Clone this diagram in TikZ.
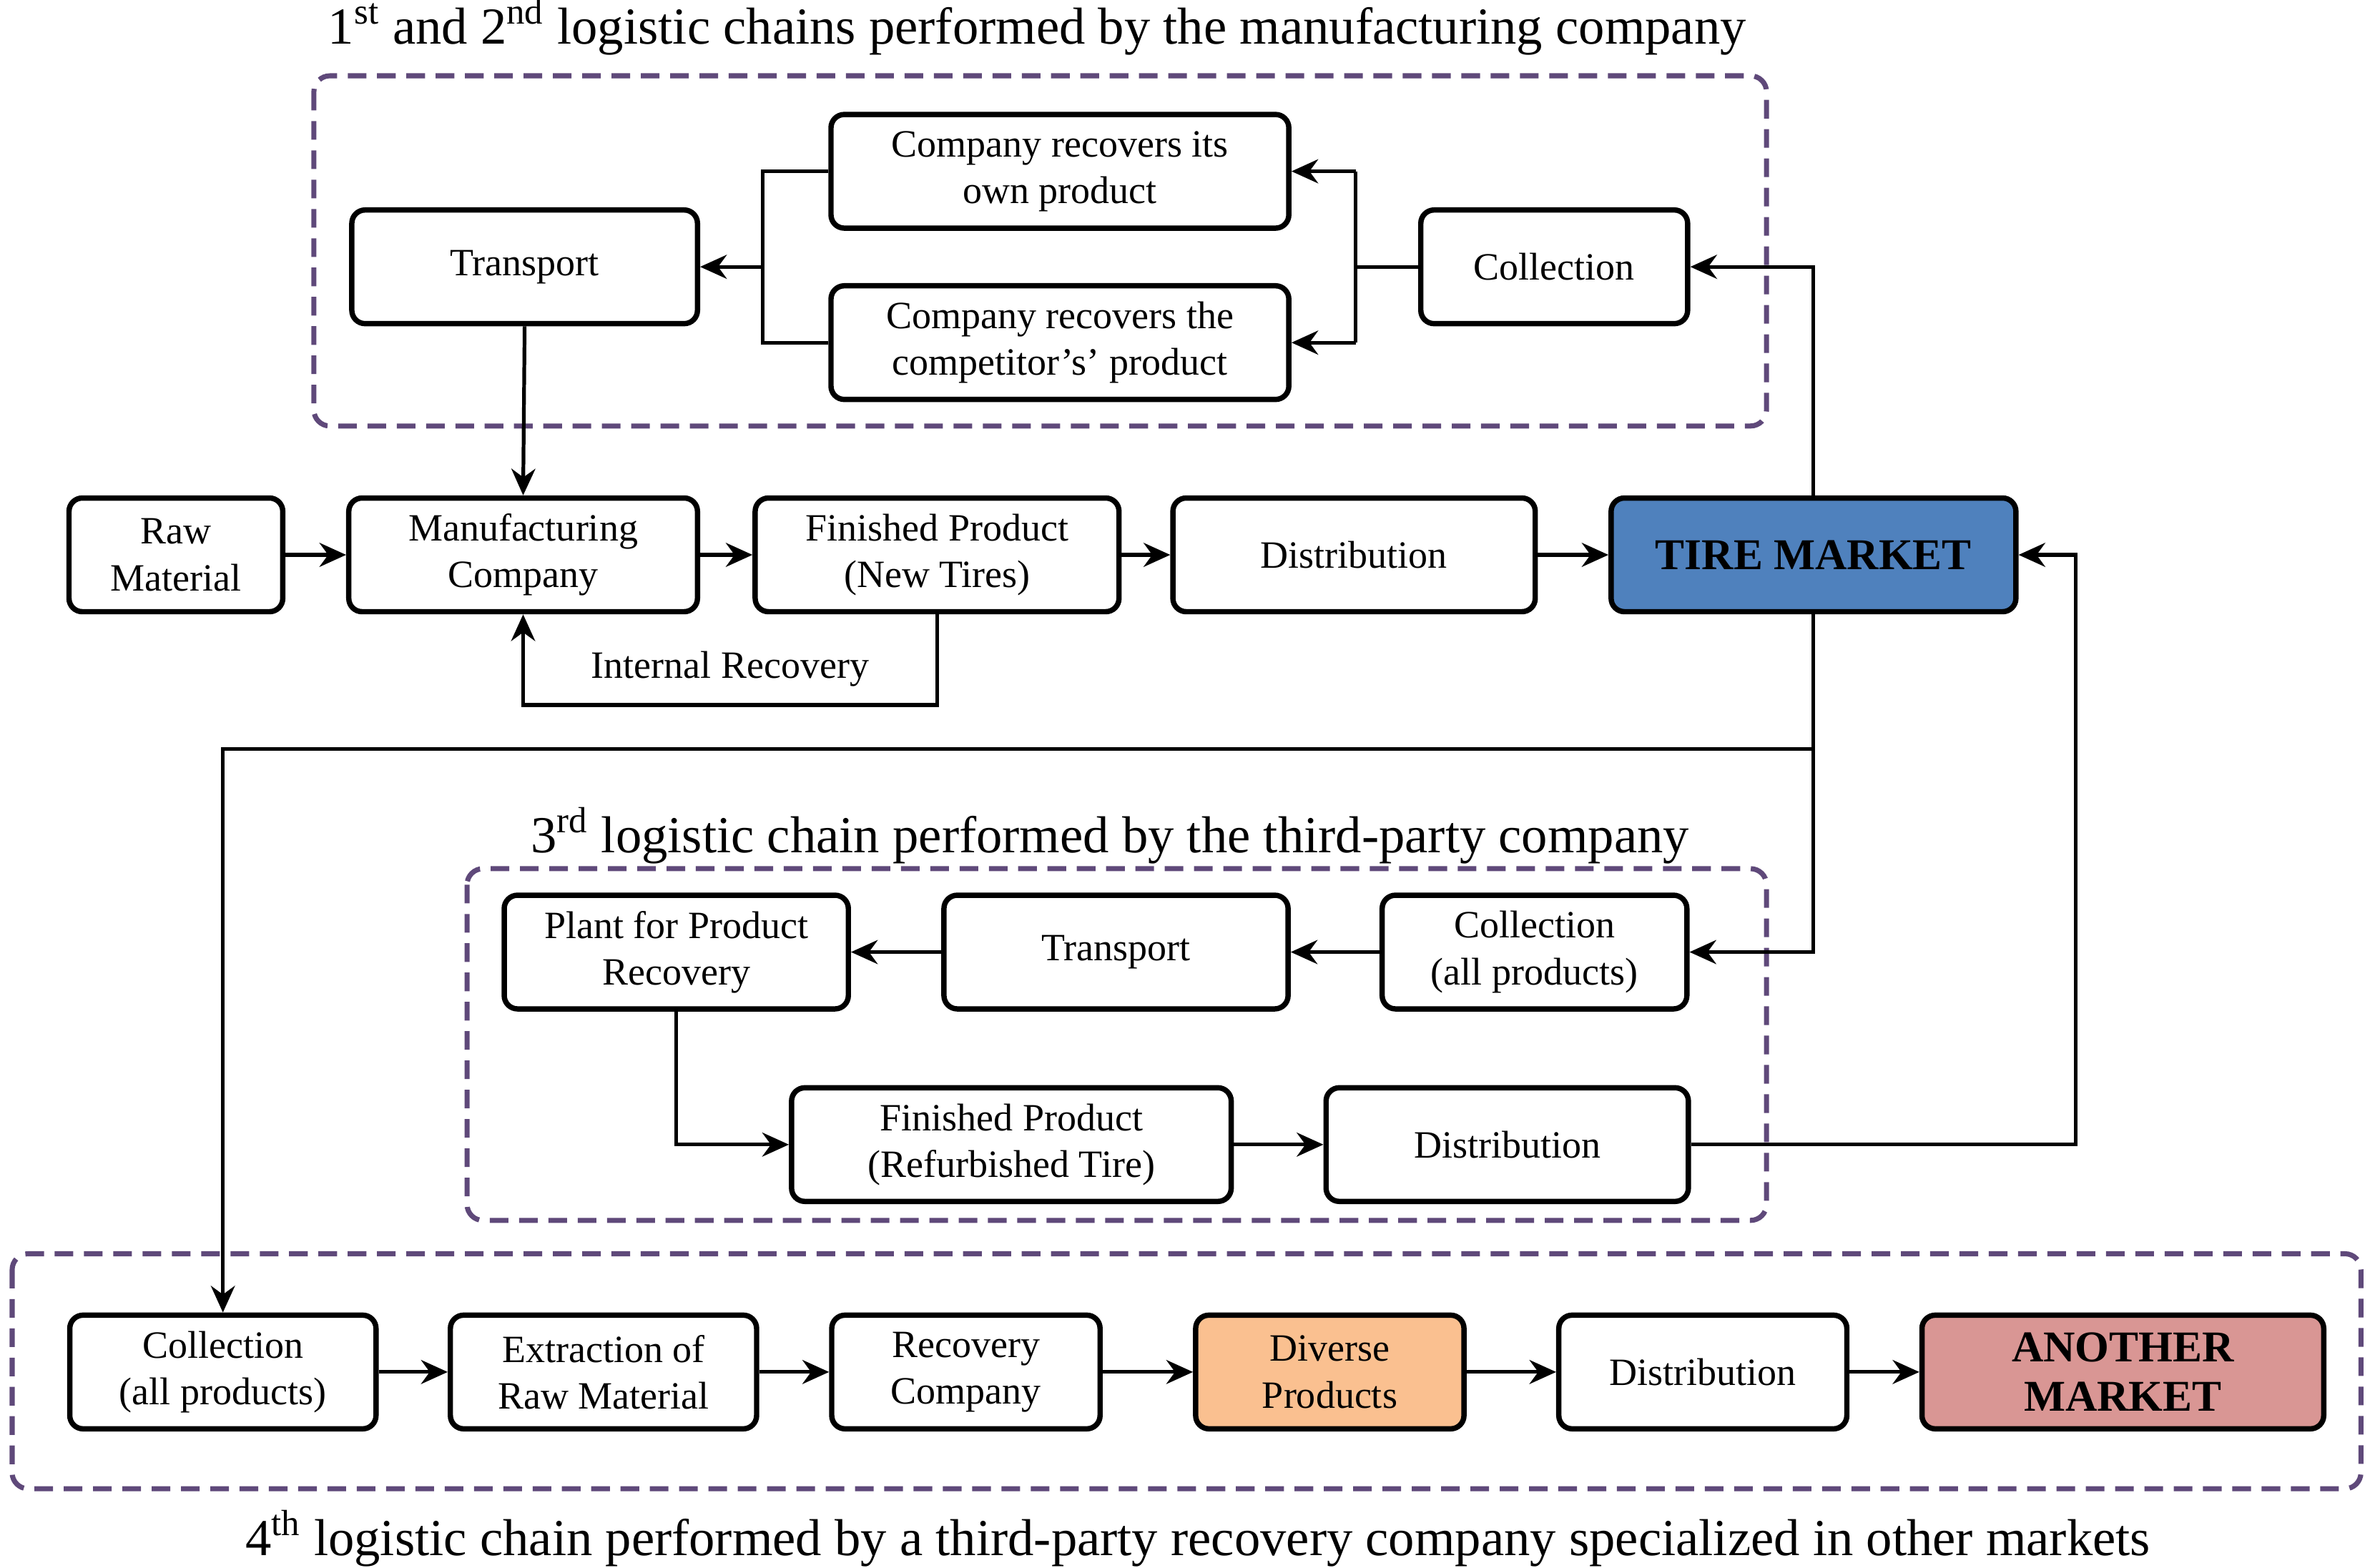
\documentclass[tikz,border=0pt]{standalone}
\usepackage{fontspec}
\setmainfont{Liberation Serif}
\usetikzlibrary{arrows.meta}
\definecolor{dpurple}{HTML}{5F497A}
\definecolor{tblue}{HTML}{4F81BD}
\definecolor{dorange}{HTML}{FAC090}
\definecolor{dred}{HTML}{D99694}
\begin{document}
\begin{tikzpicture}[x=0.02cm,y=-0.02cm,
 box/.style={draw,line width=2pt,rounded corners=5pt,minimum height=1.5cm,align=center,font=\fontsize{14.5}{17.5}\selectfont,inner sep=1pt},
 grp/.style={draw=dpurple,line width=1.9pt,dash pattern=on 7pt off 4pt,rounded corners=6pt},
 ttl/.style={font=\fontsize{19.5}{22}\selectfont},
 ar/.style={line width=1.4pt,-{Stealth[length=10pt,width=9pt]}},
 ln/.style={line width=1.4pt}]
\useasboundingbox (0,0) rectangle (1563,1034);
% groups
\draw[grp] (207,50) rectangle (1165,281);
\draw[grp] (308,573) rectangle (1165,805);
\draw[grp] (8,827) rectangle (1557,982);
\node[ttl] (t1) at (684,18) {1\textsuperscript{st} and 2\textsuperscript{nd} logistic chains performed by the manufacturing company};
\node[ttl] (t3) at (732,551) {3\textsuperscript{rd} logistic chain performed by the third-party company};
\node[ttl] (t4) at (790,1015) {4\textsuperscript{th} logistic chain performed by a third-party recovery company specialized in other markets};
% top
\node[box,minimum width=6.04cm] (own) at (699,113) {Company recovers its\\own product};
\node[box,minimum width=6.04cm] (comp) at (699,226) {Company recovers the\\competitor’s’ product};
\node[box,minimum width=4.56cm] (tr1) at (346,176) {Transport};
\node[box,minimum width=3.52cm] (col1) at (1025,176) {Collection};
% middle
\node[box,minimum width=2.82cm] (raw) at (116,366) {Raw\\Material};
\node[box,minimum width=4.6cm] (man) at (345,366) {Manufacturing\\Company};
\node[box,minimum width=4.8cm] (fpn) at (618,366) {Finished Product\\(New Tires)};
\node[box,minimum width=4.78cm] (dis1) at (893,366) {Distribution};
\node[box,minimum width=5.34cm,fill=tblue,font=\fontsize{16.5}{19}\selectfont\bfseries] (tm) at (1196,366) {TIRE MARKET};
% third
\node[box,minimum width=4.54cm] (plant) at (446,628) {Plant for Product\\Recovery};
\node[box,minimum width=4.54cm] (tr3) at (736,628) {Transport};
\node[box,minimum width=4.02cm] (col3) at (1012,628) {Collection\\(all products)};
\node[box,minimum width=5.8cm] (fpr) at (667,755) {Finished Product\\(Refurbished Tire)};
\node[box,minimum width=4.78cm] (dis3) at (994,755) {Distribution};
% fourth
\node[box,minimum width=4.04cm] (col4) at (147,905) {Collection\\(all products)};
\node[box,minimum width=4.04cm] (ext) at (398,905) {Extraction of\\Raw Material};
\node[box,minimum width=3.54cm] (rec) at (637,905) {Recovery\\Company};
\node[box,minimum width=3.54cm,fill=dorange] (div) at (877,905) {Diverse\\Products};
\node[box,minimum width=3.8cm] (dis4) at (1123,905) {Distribution};
\node[box,minimum width=5.3cm,fill=dred,font=\fontsize{16.5}{18.5}\selectfont\bfseries] (am) at (1400,905) {ANOTHER\\MARKET};
% connectors top
\draw[ln] (col1.west) -- (894,176);
\draw[ln] (894,113) -- (894,226);
\draw[ar] (894,113) -- (own.east);
\draw[ar] (894,226) -- (comp.east);
\draw[ln] (own.west) -- (503,113) -- (503,226) -- (comp.west);
\draw[ar] (503,176) -- (tr1.east);
\draw[ar] (tr1.south) -- (man.north);
\draw[ar] (tm.north) |- (col1.east);
% middle
\draw[ar] (raw) -- (man);
\draw[ar] (man) -- (fpn);
\draw[ar] (fpn) -- (dis1);
\draw[ar] (dis1) -- (tm);
\draw[ar] (fpn.south) -- (618,465) -- (345,465) node[midway,above=3pt,font=\fontsize{14.5}{17}\selectfont] (ir) {Internal Recovery} -- (man.south);
% from tire market down
\draw[ln] (tm.south) -- (1196,494);
\draw[ar] (1196,494) -- (147,494) -- (col4.north);
\draw[ar] (1196,494) |- (col3.east);
\draw[ar] (col3) -- (tr3);
\draw[ar] (tr3) -- (plant);
\draw[ar] (plant.south) |- (fpr.west);
\draw[ar] (fpr) -- (dis3);
\draw[ar] (dis3.east) -- (1369,755) |- (tm.east);
% fourth
\draw[ar] (col4) -- (ext);
\draw[ar] (ext) -- (rec);
\draw[ar] (rec) -- (div);
\draw[ar] (div) -- (dis4);
\draw[ar] (dis4) -- (am);
\end{tikzpicture}
\end{document}
